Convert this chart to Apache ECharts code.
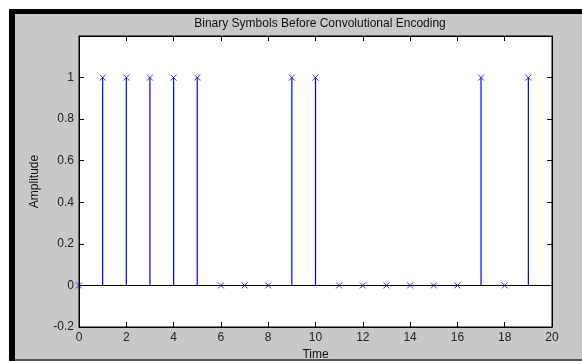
<!DOCTYPE html>
<html>
<head>
<meta charset="utf-8">
<script src="https://cdn.jsdelivr.net/npm/echarts@6/dist/echarts.min.js"></script>
<style>
  html, body { margin: 0; padding: 0; background: #fff; }
  #chart { width: 582px; height: 361px; }
</style>
</head>
<body>
<div id="chart"></div>
<script>
    'use strict';

    // time index and the binary symbol at each step
    var times = [0, 1, 2, 3, 4, 5, 6, 7, 8, 9, 10, 11, 12, 13, 14, 15, 16, 17, 18, 19];
    var symbols = [0, 1, 1, 1, 1, 1, 0, 0, 0, 1, 1, 0, 0, 0, 0, 0, 0, 1, 0, 1];
    var yTicks = [-0.2, 0, 0.2, 0.4, 0.6, 0.8, 1];

    var points = [];
    for (var i = 0; i < times.length; i++) {
        points.push([times[i], symbols[i]]);
    }

    var font = 'Liberation Sans, Arial, sans-serif';
    var blue = '#0000ff';

    var chart = echarts.init(document.getElementById('chart'));
    chart.setOption({
        animation: false,
        backgroundColor: '#ffffff',
        graphic: [
            { type: 'rect', shape: { x: 9, y: 9, width: 573, height: 352 }, style: { fill: '#000' }, z: -10 },
            { type: 'rect', shape: { x: 15, y: 14, width: 567, height: 345 }, style: { fill: '#c8c8c8' }, z: -9 },
            { type: 'rect', shape: { x: 15, y: 359, width: 567, height: 2 }, style: { fill: '#555' }, z: -9 }
        ],
        title: {
            text: 'Binary Symbols Before Convolutional Encoding',
            left: 315, top: 13, textAlign: 'center',
            textStyle: { fontFamily: font, fontSize: 12, fontWeight: 'normal', color: '#111' }
        },
        grid: {
            left: 79, right: 30, top: 36, bottom: 34,
            outerBoundsMode: 'none',
            show: true, backgroundColor: '#fff', borderColor: '#000', borderWidth: 1
        },
        xAxis: [{
            type: 'value', min: 0, max: 20, interval: 2,
            name: 'Time', nameLocation: 'middle', nameGap: 19,
            nameTextStyle: { fontFamily: font, fontSize: 12, color: '#111' },
            axisLine: { onZero: false, lineStyle: { color: '#000' } },
            axisTick: { inside: true, length: 5, lineStyle: { color: '#000' } },
            axisLabel: { fontFamily: font, fontSize: 12, color: '#222', margin: 5 },
            splitLine: { show: false }
        }, {
            type: 'value', min: 0, max: 20, interval: 2, position: 'top',
            axisLine: { onZero: false, lineStyle: { color: '#000' } },
            axisTick: { inside: true, length: 5, lineStyle: { color: '#000' } },
            axisLabel: { show: false },
            splitLine: { show: false }
        }],
        yAxis: [{
            type: 'value', min: -0.2, max: 1.2, interval: 0.2,
            name: 'Amplitude', nameLocation: 'middle', nameGap: 38,
            nameTextStyle: { fontFamily: font, fontSize: 12, color: '#111' },
            axisLine: { onZero: false, lineStyle: { color: '#000' } },
            axisTick: { inside: true, length: 5, lineStyle: { color: '#000' } },
            axisLabel: {
                fontFamily: font, fontSize: 12, color: '#222', margin: 5,
                formatter: function (v) {
                    var r = Math.round(v * 10) / 10;
                    return yTicks.indexOf(r) >= 0 ? String(r) : '';
                }
            },
            splitLine: { show: false }
        }, {
            type: 'value', min: -0.2, max: 1.2, interval: 0.2, position: 'right',
            axisLine: { onZero: false, lineStyle: { color: '#000' } },
            axisTick: { inside: true, length: 5, lineStyle: { color: '#000' } },
            axisLabel: { show: false },
            splitLine: { show: false }
        }],
        series: [{
            name: 'stem',
            type: 'custom',
            silent: true,
            renderItem: function (params, api) {
                var p0 = api.coord([api.value(0), 0]);
                var p1 = api.coord([api.value(0), api.value(1)]);
                return {
                    type: 'line',
                    shape: { x1: p0[0], y1: p0[1], x2: p1[0], y2: p1[1] },
                    style: { stroke: blue, lineWidth: 1.2 }
                };
            },
            data: points,
            z: 3
        }, {
            name: 'symbols',
            type: 'scatter',
            silent: true,
            symbol: 'path://M0,0L10,10M10,0L0,10',
            symbolSize: 6,
            itemStyle: { color: 'transparent', borderColor: blue, borderWidth: 1 },
            data: points,
            markLine: {
                silent: true,
                symbol: 'none',
                label: { show: false },
                lineStyle: { color: '#000', type: 'solid', width: 1 },
                data: [{ yAxis: 0 }]
            },
            z: 4
        }]
    });
</script>
</body>
</html>
